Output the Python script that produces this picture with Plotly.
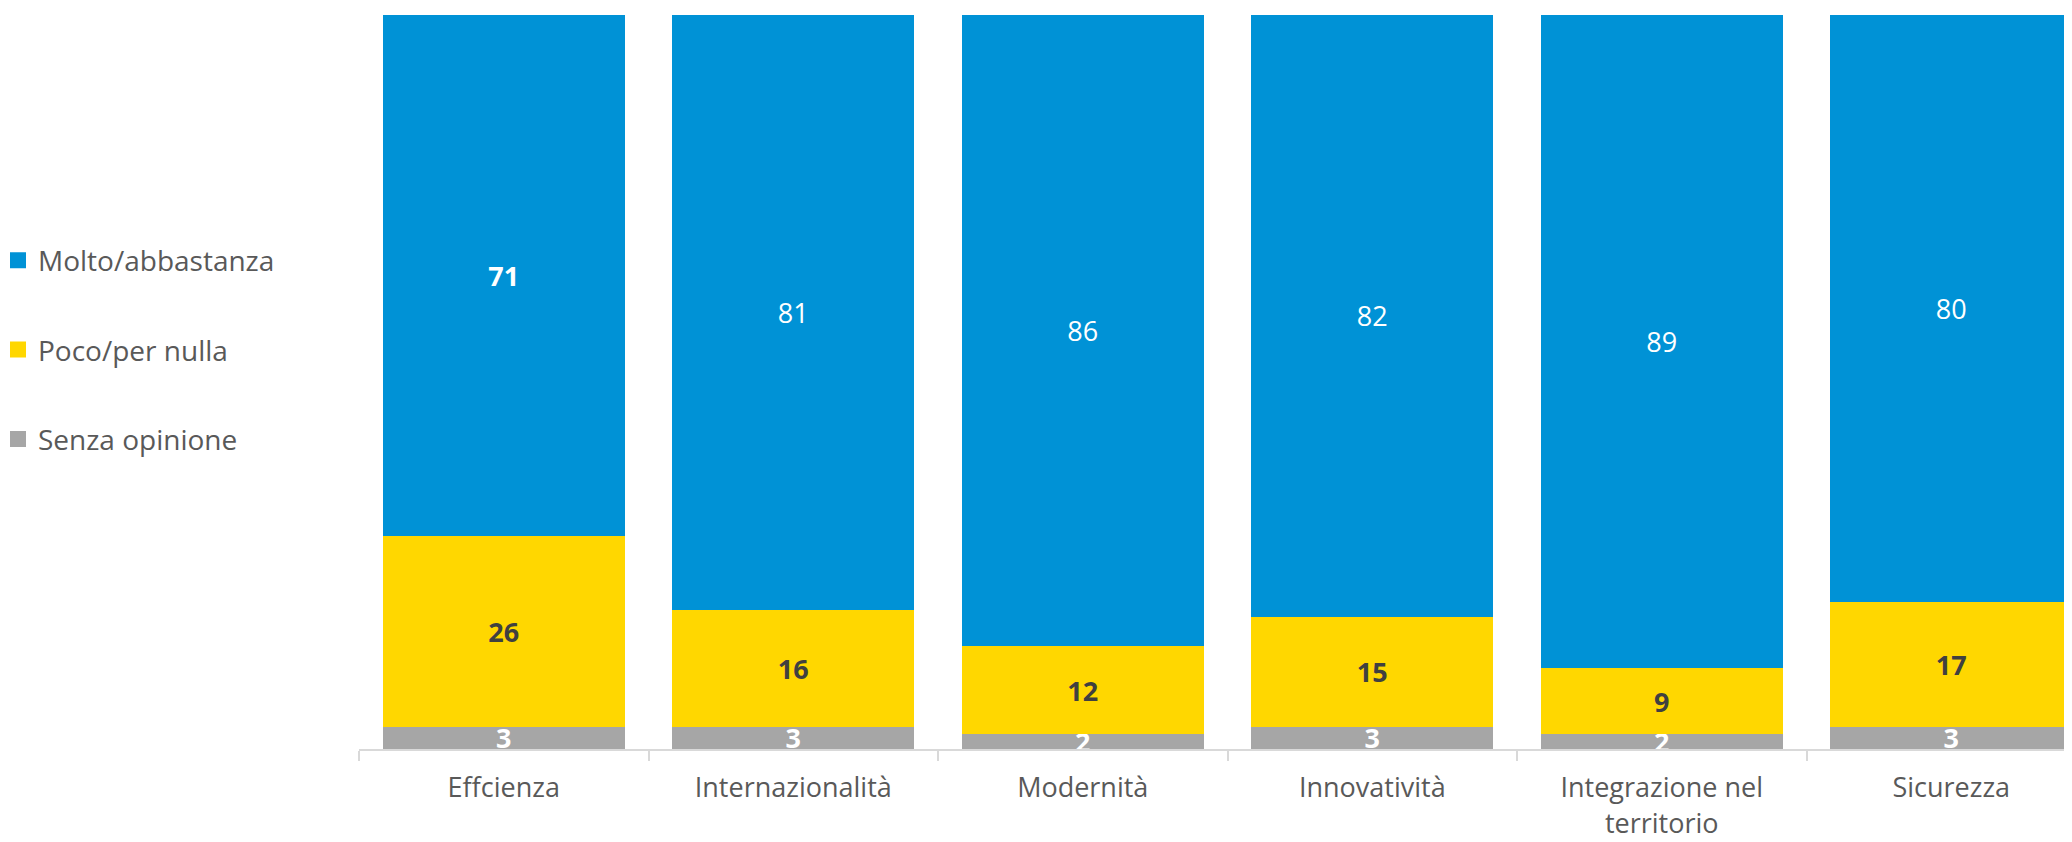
import plotly.graph_objects as go

categories = ["Effcienza", "Internazionalità", "Modernità", "Innovatività",
              "Integrazione nel<br>territorio", "Sicurezza"]
molto = [71, 81, 86, 82, 89, 80]
poco = [26, 16, 12, 15, 9, 17]
senza = [3, 3, 2, 3, 2, 3]

series_names = ["Molto/abbastanza", "Poco/per nulla", "Senza opinione"]
colors = ["#0092D6", "#FFD700", "#A6A6A6"]

FONT = "Open Sans"

fig = go.Figure()

# bottom segment: white bold labels
fig.add_trace(go.Bar(
    x=categories, y=senza, name=series_names[2], showlegend=False,
    marker=dict(color=colors[2], line=dict(width=0)),
    text=[f"<b>{v}</b>" for v in senza],
    textposition="inside", insidetextanchor="middle", textangle=0,
    constraintext="none", cliponaxis=False,
    textfont=dict(family=FONT, size=27, color="white"),
))

# middle segment: dark bold labels
fig.add_trace(go.Bar(
    x=categories, y=poco, name=series_names[1], showlegend=False,
    marker=dict(color=colors[1], line=dict(width=0)),
    text=[f"<b>{v}</b>" for v in poco],
    textposition="inside", insidetextanchor="middle", textangle=0,
    constraintext="none", cliponaxis=False,
    textfont=dict(family=FONT, size=27, color="#404040"),
))

# top segment: white labels (first one bold)
molto_text = [f"<b>{v}</b>" if i == 0 else str(v) for i, v in enumerate(molto)]
fig.add_trace(go.Bar(
    x=categories, y=molto, name=series_names[0], showlegend=False,
    marker=dict(color=colors[0], line=dict(width=0)),
    text=molto_text,
    textposition="inside", insidetextanchor="middle", textangle=0,
    constraintext="none", cliponaxis=False,
    textfont=dict(family=FONT, size=27, color="white"),
))

# legend entries (square swatches)
for i, (nm, col) in enumerate(zip(series_names, colors)):
    fig.add_trace(go.Scatter(
        x=[None], y=[None], mode="markers", name=nm,
        legendgroup=f"g{i}", showlegend=True, hoverinfo="skip",
        marker=dict(symbol="square", size=16, color=col, line=dict(width=0)),
    ))

# the page body has an 8px margin; compensate
W, H = 2064, 834
L, T = 351, 7
plot_bottom = 741
B = H - plot_bottom
plot_w = W - L
plot_h = H - T - B
cat_w = 289.5
x_max = -0.5 + plot_w / cat_w

fig.update_layout(
    width=W, height=H,
    margin=dict(l=L, r=0, t=T, b=B, pad=0, autoexpand=False),
    barmode="stack",
    bargap=0.164,
    plot_bgcolor="white",
    paper_bgcolor="white",
    font=dict(family=FONT, color="#595959"),
    showlegend=True,
    legend=dict(
        x=(0 - L) / plot_w, xanchor="left",
        y=(plot_h - (342 - T)) / plot_h, yanchor="middle",
        traceorder="grouped",
        tracegroupgap=50,
        indentation=-10,
        font=dict(family=FONT, size=28, color="#595959"),
        bgcolor="rgba(0,0,0,0)",
    ),
    xaxis=dict(
        type="category",
        range=[-0.5, x_max],
        automargin=False,
        showline=True, linecolor="#D9D9D9", linewidth=2,
        ticks="outside", tickson="boundaries", ticklen=10,
        tickcolor="#D9D9D9", tickwidth=2,
        ticklabelstandoff=14,
        tickfont=dict(family=FONT, size=27, color="#595959"),
        showgrid=False, zeroline=False,
    ),
    yaxis=dict(
        range=[0, 100], visible=False, automargin=False,
        showgrid=False, zeroline=False,
    ),
)

fig.write_html("out.html")
